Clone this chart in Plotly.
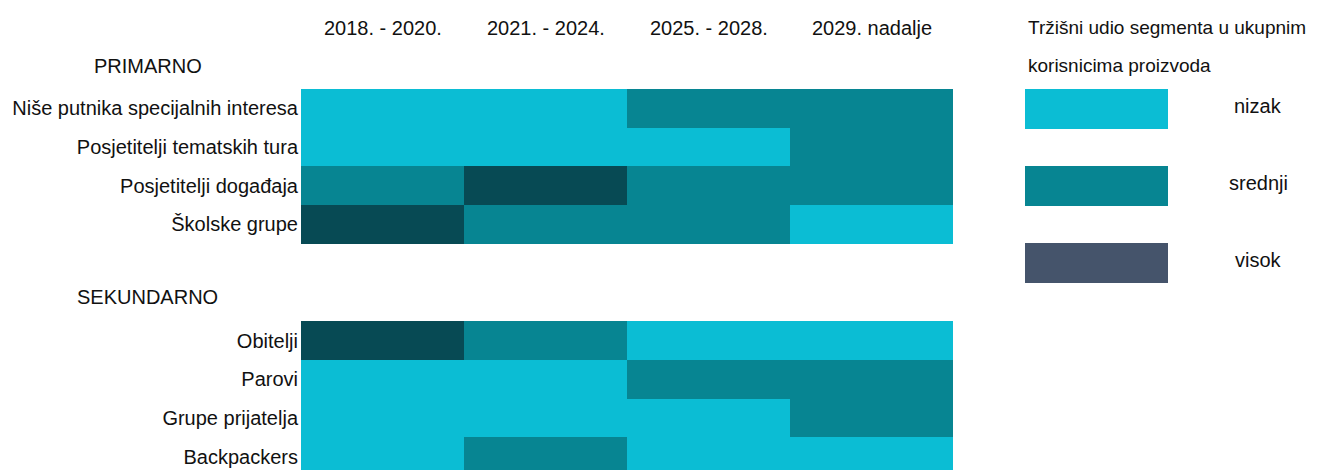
import plotly.graph_objects as go

# ---- data ----
periods = ["2018. - 2020.", "2021. - 2024.", "2025. - 2028.", "2029. nadalje"]
primary_segments = ["Niše putnika specijalnih interesa", "Posjetitelji tematskih tura",
                    "Posjetitelji događaja", "Školske grupe"]
secondary_segments = ["Obitelji", "Parovi", "Grupe prijatelja", "Backpackers"]
# 0 = nizak, 1 = srednji, 2 = visok
primary_values = [
    [0, 0, 1, 1],
    [0, 0, 0, 1],
    [1, 2, 1, 1],
    [2, 1, 1, 0],
]
secondary_values = [
    [2, 1, 0, 0],
    [0, 0, 1, 1],
    [0, 0, 0, 1],
    [0, 1, 0, 0],
]
level_names = ["nizak", "srednji", "visok"]
legend_colors = ["#0BBDD4", "#078592", "#45546B"]
cell_colors = ["#0BBDD4", "#078592", "#074A54"]
group_titles = ["PRIMARNO", "SEKUNDARNO"]
legend_title = ["Tržišni udio segmenta u ukupnim", "korisnicima proizvoda"]

# ---- layout geometry (window pixel coords; page body has 8px margin) ----
OFF = 8
WIN_W, WIN_H = 1326, 470
W, H = WIN_W - OFF, WIN_H - OFF
L, R, T, B = 301, 953, 89, 470   # plot area in window coords
ROW = 38.7

def px(x):
    return (x - L) / (R - L)

def py(y):
    return 1 - (y - T) / (B - T)

blank = [None] * len(periods)
z = primary_values + [blank, blank] + secondary_values
labels = primary_segments + ["", ""] + secondary_segments
yidx = list(range(len(z)))

colorscale = [[0, cell_colors[0]], [1/3, cell_colors[0]],
              [1/3, cell_colors[1]], [2/3, cell_colors[1]],
              [2/3, cell_colors[2]], [1, cell_colors[2]]]

fig = go.Figure(go.Heatmap(
    z=z, x=list(range(len(periods))), y=yidx,
    colorscale=colorscale, zmin=-0.5, zmax=2.5, showscale=False,
    hoverongaps=False,
))

font_main = dict(family="Liberation Sans, Arial, sans-serif", size=20, color="#111111")
font_legtitle = dict(family="Liberation Sans, Arial, sans-serif", size=19, color="#111111")

bottom = -0.5 + (B - T) / ROW
fig.update_layout(
    width=W, height=H,
    margin=dict(l=L - OFF, r=WIN_W - R, t=T - OFF, b=WIN_H - B, pad=0),
    paper_bgcolor="white", plot_bgcolor="white",
    xaxis=dict(range=[-0.5, len(periods) - 0.5], showticklabels=False, showgrid=False,
               zeroline=False, showline=False, ticks=""),
    yaxis=dict(range=[bottom, -0.5], tickmode="array", tickvals=yidx, ticktext=labels,
               showgrid=False, zeroline=False, showline=False, ticks="",
               tickfont=font_main, ticklabelstandoff=2),
    font=font_main,
)

ann = []
for i, p in enumerate(periods):
    ann.append(dict(x=i, xref="x", y=py(28), yref="paper", text=p, showarrow=False,
                    xanchor="center", yanchor="middle", font=font_main))
ann.append(dict(x=px(148), xref="paper", y=py(66), yref="paper", text=group_titles[0],
                showarrow=False, xanchor="center", yanchor="middle", font=font_main))
ann.append(dict(x=px(147), xref="paper", y=py(297), yref="paper", text=group_titles[1],
                showarrow=False, xanchor="center", yanchor="middle", font=font_main))
ann.append(dict(x=px(1026), xref="paper", y=py(28), yref="paper", text=legend_title[0],
                showarrow=False, xanchor="left", yanchor="middle", font=font_legtitle))
ann.append(dict(x=px(1026), xref="paper", y=py(66), yref="paper", text=legend_title[1],
                showarrow=False, xanchor="left", yanchor="middle", font=font_legtitle))

shapes = []
box_tops = [89, 166, 243]
for name, col, top in zip(level_names, legend_colors, box_tops):
    shapes.append(dict(type="rect", xref="paper", yref="paper",
                       x0=px(1025), x1=px(1168), y0=py(top + 40), y1=py(top),
                       fillcolor=col, line=dict(width=0), layer="above"))
    ann.append(dict(x=px(1258), xref="paper", y=py(top + 17), yref="paper", text=name,
                    showarrow=False, xanchor="center", yanchor="middle", font=font_main))

fig.update_layout(annotations=ann, shapes=shapes)
fig.write_html("out.html")
